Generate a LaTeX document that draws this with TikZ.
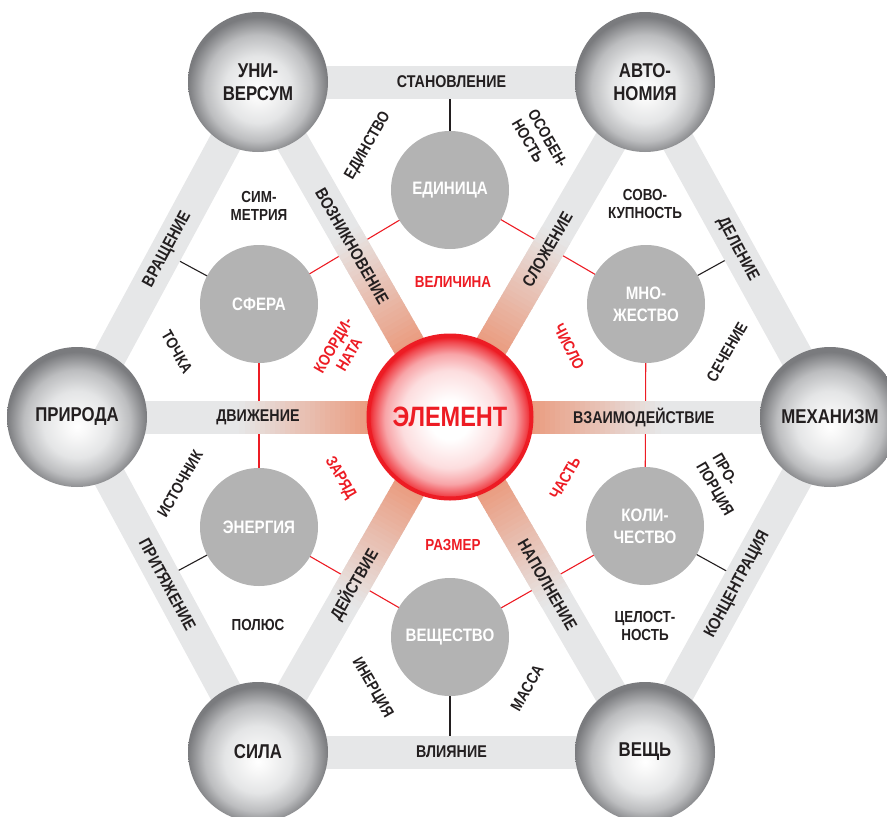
\documentclass[tikz,border=0pt]{standalone}
\usepackage{fontspec}
\usetikzlibrary{calc,backgrounds}
\newfontfamily\cond[FakeStretch=0.84]{Liberation Sans}
\definecolor{bandc}{HTML}{E6E7E8}
\definecolor{pk}{HTML}{EA9C80}
\definecolor{ingray}{HTML}{B3B3B3}
\definecolor{myred}{HTML}{ED1C24}
\definecolor{ink}{HTML}{231F20}
\definecolor{ballA}{HTML}{E4E5E6}
\definecolor{ballB}{HTML}{BCBDBF}
\definecolor{ballC}{HTML}{7A7B7E}
\pgfdeclareradialshading{ballshade}{\pgfpoint{0bp}{-3.5bp}}{color(0bp)=(white); color(4bp)=(white!97!black); color(12bp)=(ballA); color(19bp)=(ballB); color(25bp)=(ballC); color(50bp)=(ballC)}
\pgfdeclareradialshading{redshade}{\pgfpoint{0bp}{-1bp}}{color(0bp)=(white); color(6bp)=(white); color(15bp)=(myred!15!white); color(20bp)=(myred!40!white); color(23.5bp)=(myred!80!white); color(25bp)=(myred); color(50bp)=(myred)}
\tikzset{
 outer/.style={circle, minimum size=140pt, inner sep=0pt, shading=ballshade, align=center, text=ink, font=\cond\bfseries\fontsize{20}{23}\selectfont},
 inner/.style={circle, minimum size=118pt, inner sep=0pt, fill=ingray, align=center, text=white, font=\cond\bfseries\fontsize{18}{22}\selectfont},
 centre/.style={circle, minimum size=163pt, inner sep=0pt, shading=redshade, draw=myred, line width=4pt, text=myred, font=\cond\bfseries\fontsize{28}{32}\selectfont},
 band/.style={line width=33pt, draw=bandc},
 lbl/.style={align=center, text=ink, inner sep=0pt, font=\cond\bfseries\fontsize{16}{18.5}\selectfont},
 lbll/.style={lbl, align=left},
 rlbl/.style={lbl, text=myred},
 blbl/.style={inner sep=0pt, text=ink, font=\cond\bfseries\fontsize{17}{20}\selectfont},
 redline/.style={draw=myred, line width=1.1pt},
 blkline/.style={draw=ink, line width=1.1pt},
}
\begin{document}
\begin{tikzpicture}[x=1pt,y=-1pt]
\useasboundingbox (0,0) rectangle (887,817);
\clip (0,0) rectangle (887,817);
% outer nodes
\node[outer] (U) at (258,82) {УНИ-\\ВЕРСУМ};
\node[outer] (A) at (645,82) {АВТО-\\НОМИЯ};
\node[outer] (P) at (77,417) {ПРИРОДА};
\node[outer] (M) at (830,417) {МЕХАНИЗМ};
\node[outer] (S) at (258,752) {СИЛА};
\node[outer] (V) at (645,752) {ВЕЩЬ};
\node[centre] (E) at (450,417) {ЭЛЕМЕНТ};
% inner nodes
\node[inner] (Ed) at (450,190) {ЕДИНИЦА};
\node[inner] (Sf) at (259,304) {СФЕРА};
\node[inner] (Mn) at (646,304) {МНО-\\ЖЕСТВО};
\node[inner] (En) at (259,527) {ЭНЕРГИЯ};
\node[inner] (Ko) at (645,526) {КОЛИ-\\ЧЕСТВО};
\node[inner] (Ve) at (450,637) {ВЕЩЕСТВО};
\begin{pgfonlayer}{background}
% red lines between inner nodes
\draw[redline] (Ed.center) -- (Sf.center);
\draw[redline] (Ed.center) -- (Mn.center);
\draw[redline] (Sf.center) -- (En.center);
\draw[redline] (Mn.center) -- (Ko.center);
\draw[redline] (En.center) -- (Ve.center);
\draw[redline] (Ko.center) -- (Ve.center);
% black lines to perimeter bands
\draw[blkline] (Ed.center) -- ($(U)!(Ed)!(A)$);
\draw[blkline] (Sf.center) -- ($(U)!(Sf)!(P)$);
\draw[blkline] (Mn.center) -- ($(A)!(Mn)!(M)$);
\draw[blkline] (En.center) -- ($(P)!(En)!(S)$);
\draw[blkline] (Ko.center) -- ($(M)!(Ko)!(V)$);
\draw[blkline] (Ve.center) -- ($(S)!(Ve)!(V)$);
% perimeter bands
\draw[band] (U.center) -- (A.center);
\draw[band] (A.center) -- (M.center);
\draw[band] (M.center) -- (V.center);
\draw[band] (V.center) -- (S.center);
\draw[band] (S.center) -- (P.center);
\draw[band] (P.center) -- (U.center);
% spokes with gradient
\foreach \o in {U,A,P,M,S,V}{
  \draw[band] (E.center) -- (\o.center);
  \foreach \i in {0,...,25}{
    \pgfmathtruncatemacro\pp{100-\i*100/26}
    \pgfmathsetmacro\ra{80+\i*5}
    \pgfmathsetmacro\rb{86+\i*5}
    \draw[line width=33pt, draw=pk!\pp!bandc] ($(E)!\ra pt!(\o)$) -- ($(E)!\rb pt!(\o)$);
  }
}
\end{pgfonlayer}
% band labels
\node[blbl] (tSt) at ($(U)!0.5!(A)$) {СТАНОВЛЕНИЕ};
\node[blbl] (tVl) at ($(S)!0.5!(V)$) {ВЛИЯНИЕ};
\node[blbl, rotate=61.7] (tVr) at ($(U)!0.5!(P)$) {ВРАЩЕНИЕ};
\node[blbl, rotate=-61.7] (tDe) at ($(A)!0.5!(M)$) {ДЕЛЕНИЕ};
\node[blbl, rotate=-61.7] (tPr) at ($(P)!0.5!(S)$) {ПРИТЯЖЕНИЕ};
\node[blbl, rotate=61.7] (tKo) at ($(M)!0.5!(V)$) {КОНЦЕНТРАЦИЯ};
\node[blbl, rotate=-60.2] (tVo) at ($(E)!0.51!(U)$) {ВОЗНИКНОВЕНИЕ};
\node[blbl, rotate=60] (tSl) at ($(E)!0.5!(A)$) {СЛОЖЕНИЕ};
\node[blbl] (tDv) at ($(E)!0.515!(P)$) {ДВИЖЕНИЕ};
\node[blbl] (tVz) at ($(E)!0.51!(M)$) {ВЗАИМОДЕЙСТВИЕ};
\node[blbl, rotate=60] (tDs) at ($(E)!0.5!(S)$) {ДЕЙСТВИЕ};
\node[blbl, rotate=-60] (tNa) at ($(E)!0.5!(V)$) {НАПОЛНЕНИЕ};
% small labels
\node[lbl] (l1) at (259,206) {СИМ-\\МЕТРИЯ};
\node[lbl, rotate=60] (l2) at (368,146) {ЕДИНСТВО};
\node[lbll, rotate=-60] (l3) at (540,143) {ОСОБЕН-\\НОСТЬ};
\node[lbl] (l4) at (645,204) {СОВО-\\КУПНОСТЬ};
\node[rlbl] (l5) at (453,282) {ВЕЛИЧИНА};
\node[rlbl, rotate=60] (l6) at (341,350) {КООРДИ-\\НАТА};
\node[rlbl, rotate=-63] (l7) at (569,347) {ЧИСЛО};
\node[lbl, rotate=-60] (l8) at (177,352) {ТОЧКА};
\node[lbl, rotate=60] (l9) at (727,352) {СЕЧЕНИЕ};
\node[lbl, rotate=60] (l10) at (180,484) {ИСТОЧНИК};
\node[rlbl, rotate=-60] (l11) at (340,478) {ЗАРЯД};
\node[rlbl, rotate=60] (l12) at (565,478) {ЧАСТЬ};
\node[lbll, rotate=-60] (l13) at (722,485) {ПРО-\\ПОРЦИЯ};
\node[rlbl] (l14) at (453,545) {РАЗМЕР};
\node[lbl] (l15) at (258,625) {ПОЛЮС};
\node[lbl] (l16) at (645,626) {ЦЕЛОСТ-\\НОСТЬ};
\node[lbl, rotate=-60] (l17) at (372,688) {ИНЕРЦИЯ};
\node[lbl, rotate=60] (l18) at (527,688) {МАССА};
\end{tikzpicture}
\end{document}
